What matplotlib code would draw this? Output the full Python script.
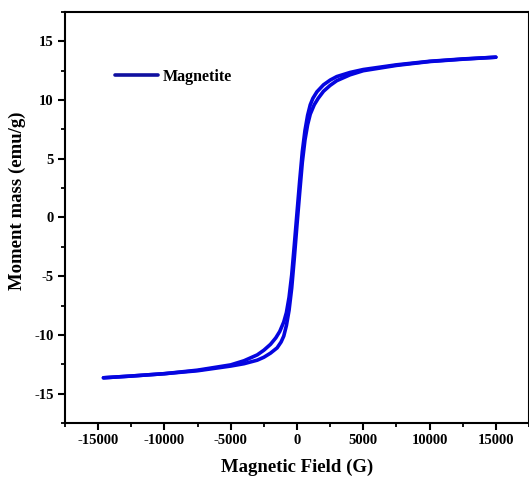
import matplotlib
matplotlib.use("Agg")
import matplotlib.pyplot as plt
from matplotlib.ticker import MultipleLocator

# Descending branch (field swept from +15000 G to about -14600 G)
h_down = [15000, 12500, 10000, 7500, 5000, 4000, 3000, 2500, 2000, 1500, 1200,
          1000, 800, 600, 400, 200, 0, -200, -400, -600, -800, -1000, -1300,
          -1600, -2000, -2500, -3000, -4000, -5000, -7500, -10000, -12500, -14600]
m_down = [13.65, 13.5, 13.3, 13.0, 12.6, 12.35, 12.0, 11.7, 11.3, 10.7, 10.15,
          9.6, 8.7, 7.4, 5.6, 3.1, 0.4, -2.3, -4.9, -6.8, -8.1, -8.9, -9.7,
          -10.25, -10.8, -11.3, -11.7, -12.2, -12.55, -13.0, -13.3, -13.5, -13.65]

# Ascending branch (field swept from about -14600 G back to +15000 G)
h_up = [-14600, -12500, -10000, -7500, -5000, -4000, -3000, -2500, -2000, -1500,
        -1200, -1000, -800, -600, -400, -200, 0, 200, 400, 600, 800, 1000, 1300,
        1600, 2000, 2500, 3000, 4000, 5000, 7500, 10000, 12500, 15000]
m_up = [-13.65, -13.5, -13.3, -13.05, -12.65, -12.45, -12.15, -11.9, -11.55, -11.1,
        -10.6, -10.1, -9.2, -7.9, -6.0, -3.4, -0.6, 2.1, 4.7, 6.6, 7.9, 8.8, 9.6,
        10.15, 10.75, 11.25, 11.65, 12.15, 12.5, 12.95, 13.28, 13.48, 13.65]

x_label = "Magnetic Field (G)"
y_label = "Moment mass (emu/g)"
series_label = "Magnetite"

plt.rcParams['font.family'] = ['Liberation Serif', 'DejaVu Serif']
plt.rcParams['font.weight'] = 'bold'
plt.rcParams['axes.unicode_minus'] = False

fig = plt.figure(figsize=(5.29, 4.87), dpi=100)
ax = fig.add_axes([0.1229, 0.1314, 0.8771, 0.844])

color = '#0505e0'
ax.plot(h_down, m_down, color=color, lw=2.6, label=series_label, solid_capstyle='round')
ax.plot(h_up, m_up, color=color, lw=2.6, solid_capstyle='round')

ax.set_xlim(-17500, 17500)
ax.set_ylim(-17.5, 17.5)
ax.xaxis.set_major_locator(MultipleLocator(5000))
ax.xaxis.set_minor_locator(MultipleLocator(2500))
ax.yaxis.set_major_locator(MultipleLocator(5))
ax.yaxis.set_minor_locator(MultipleLocator(2.5))

ax.tick_params(which='major', direction='out', length=5, width=1.5, labelsize=10.5, pad=3)
ax.tick_params(which='minor', direction='out', length=3, width=1.3)
ax.tick_params(top=False, right=False)
for lab in ax.get_xticklabels() + ax.get_yticklabels():
    lab.set_fontweight('bold')
for s in ax.spines.values():
    s.set_linewidth(1.5)

ax.set_xlabel(x_label, fontsize=13.5, fontweight='bold', labelpad=8)
ax.set_ylabel(y_label, fontsize=13.5, fontweight='bold')
ax.yaxis.set_label_coords(-0.085, 0.54)

leg = ax.legend(loc='center left', bbox_to_anchor=(0.108, 0.842), frameon=False,
                prop={'family': 'Liberation Serif', 'weight': 'bold', 'size': 11.5},
                handlelength=2.7, handletextpad=0.3, borderpad=0, borderaxespad=0)
leg.get_lines()[0].set_color('#1010a0')

fig.savefig('out.png', dpi=100)
